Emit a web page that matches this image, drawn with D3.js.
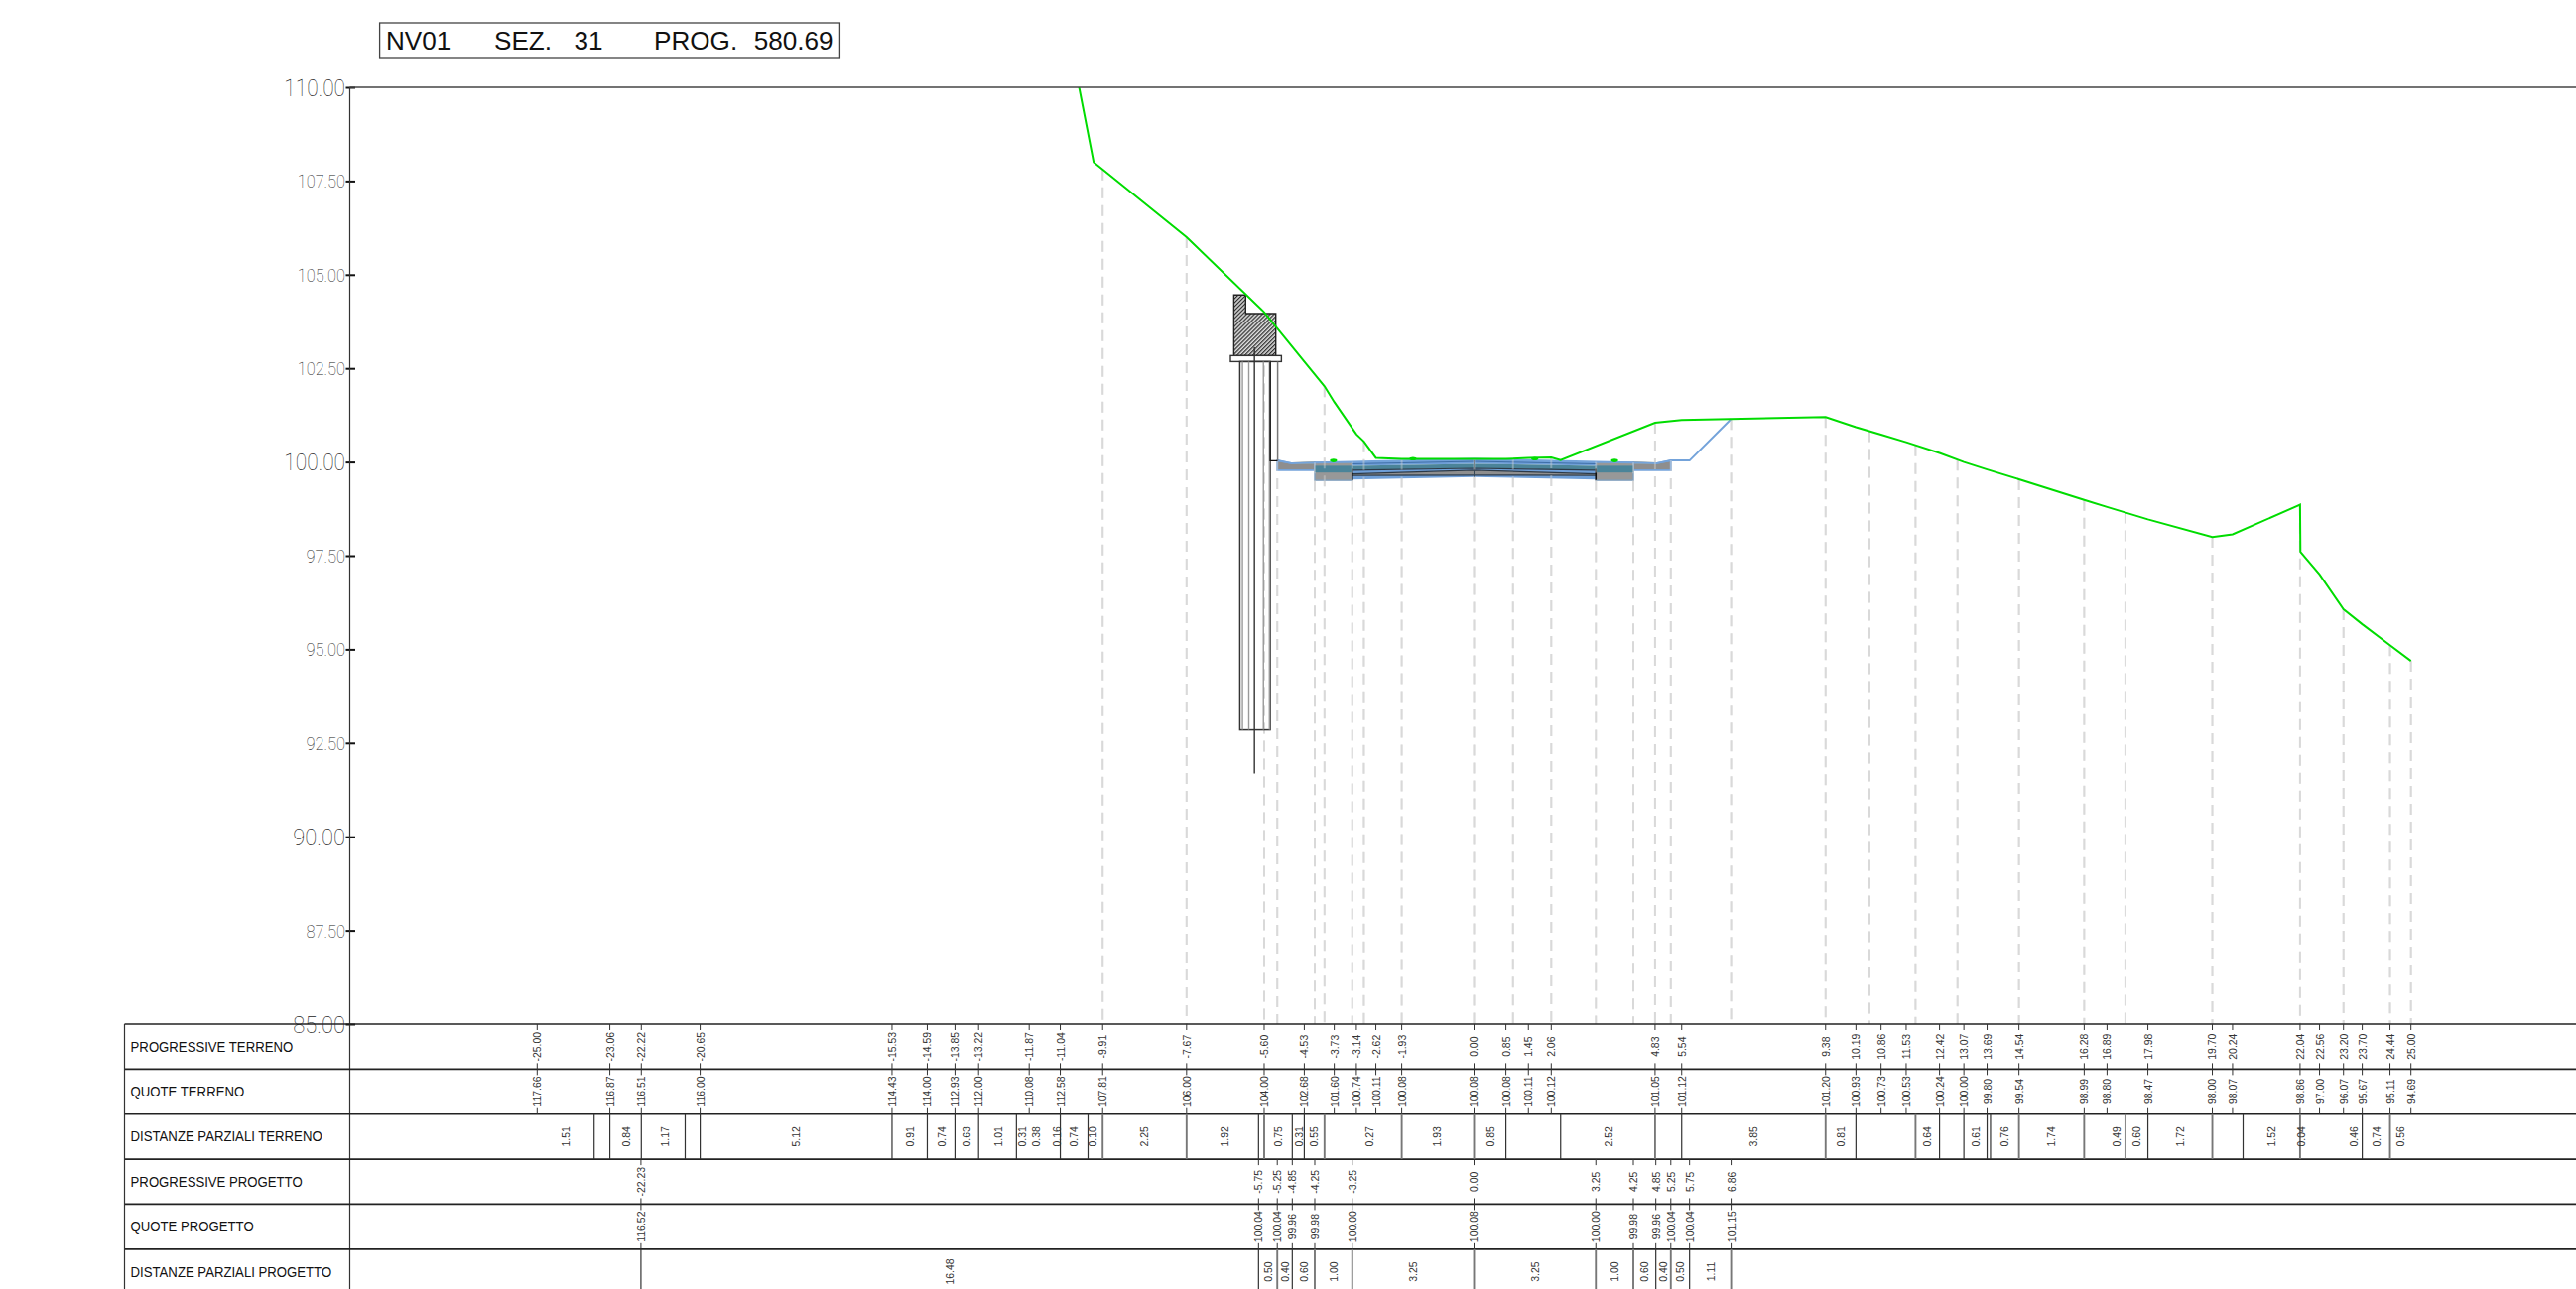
<!DOCTYPE html>
<html><head><meta charset="utf-8">
<script src="https://cdn.jsdelivr.net/npm/d3@7"></script>
<style>html,body{margin:0;padding:0;background:#fff;overflow:hidden}svg{display:block}</style>
</head><body><svg id="c" width="2596" height="1299"></svg>
<script>
// ---------- data ----------
const titleParts = ["NV01","SEZ.","31","PROG.","580.69"];
const yTicks = [110,107.5,105,102.5,100,97.5,95,92.5,90,87.5,85];
const rowNames = ["PROGRESSIVE TERRENO","QUOTE TERRENO","DISTANZE PARZIALI TERRENO","PROGRESSIVE PROGETTO","QUOTE PROGETTO","DISTANZE PARZIALI PROGETTO"];

const terrainProg = [-25,-23.06,-22.22,-20.65,-15.53,-14.59,-13.85,-13.22,-11.87,-11.04,-9.91,-7.67,-5.60,-4.53,-3.73,-3.14,-2.62,-1.93,0,0.85,1.45,2.06,4.83,5.54,9.38,10.19,10.86,11.53,12.42,13.07,13.69,14.54,16.28,16.89,17.98,19.70,20.24,22.04,22.56,23.20,23.70,24.44,25];
const terrainQuote = [117.66,116.87,116.51,116.00,114.43,114.00,112.93,112.00,110.08,112.58,107.81,106.00,104.00,102.68,101.60,100.74,100.11,100.08,100.08,100.08,100.11,100.12,101.05,101.12,101.20,100.93,100.73,100.53,100.24,100.00,99.80,99.54,98.99,98.80,98.47,98.00,98.07,98.86,97.00,96.07,95.67,95.11,94.69];
// extra terrain vertices seen on the green profile, not labelled in the table
const kinkProg = [-10.15,-3.99,-2.94,2.31,22.05];
const kinkQuote = [108.00,102.02,100.55,100.05,97.60];
// stations with a dashed drop line, up to the terrain and up to the project line
const dashTerrain = [-9.91,-7.67,-5.60,-3.99,-2.94,-1.93,0,1.04,2.06,4.83,9.38,10.55,11.78,12.90,14.54,16.28,17.38,19.70,22.04,23.20,24.44,25];
const dashProject = [-5.25,-4.25,-3.25,3.25,4.25,5.25,6.86];

const terrainBreaks = [-23.48,-23.06,-22.22,-21.05,-20.65,-15.53,-14.59,-13.85,-13.22,-12.21,-11.04,-10.30,-9.91,-7.67,-5.75,-5.60,-4.85,-4.53,-3.99,-1.93,0,0.85,2.31,4.83,5.54,9.38,10.19,11.78,12.42,13.07,13.69,13.78,14.54,16.28,17.38,17.98,19.70,20.52,22.04,23.70,24.44];
const terrainDist = ["1.51","0.84","1.17","5.12","0.91","0.74","0.63","1.01","0.31","0.38","0.16","0.74","0.10","2.25","1.92","0.75","0.31","0.55","0.27","1.93","0.85","2.52","3.85","0.81","0.64","0.61","0.76","1.74","0.49","0.60","1.72","1.52","0.04","0.46","0.74","0.56"];
const terrainDistAt = [-24.24,-22.63,-21.59,-18.09,-15.06,-14.20,-13.53,-12.70,-12.05,-11.68,-11.13,-10.67,-10.19,-8.79,-6.67,-5.23,-4.67,-4.27,-2.80,-0.98,0.43,3.58,7.45,9.78,12.09,13.38,14.15,15.40,17.14,17.67,18.85,21.27,22.06,23.47,24.07,24.72];

const projectProg = [-22.23,-5.75,-5.25,-4.85,-4.25,-3.25,0,3.25,4.25,4.85,5.25,5.75,6.86];
const projectQuote = [116.52,100.04,100.04,99.96,99.98,100.00,100.08,100.00,99.98,99.96,100.04,100.04,101.15];
const projectDist = ["16.48","0.50","0.40","0.60","1.00","3.25","3.25","1.00","0.60","0.40","0.50","1.11"];

// pavement layers: interface elevations at the edge and at the crown
const layerEdge = [100.00,99.90,99.78,99.68,99.64,99.53];
const layerCrown = [100.08,99.95,99.83,99.78,99.65,99.60];
const roadEdgeProg = 3.25, shoulderProg = 4.25, wedgeProg = 5.25;
const blockTop = 99.99, blockBottom = 99.51, bandTop = 99.90, bandBottom = 99.72, wedgeBottom = 99.78;
const dotProg = [-3.75,-1.63,1.62,3.75];
const dotQuote = [100.04,100.09,100.09,100.04];

// abutment (units: m)
const capProg = [-6.41,-6.095,-6.095,-5.29,-5.29,-6.41];
const capQuote = [104.46,104.46,103.96,103.96,102.84,102.84];
const plateProg = [-6.50,-5.14], plateQuote = [102.68,102.84];
const pileProg = [-6.25,-5.44], pileQuote = [92.85,102.68];
const pileInner = [-6.18,-6.01,-5.62,-5.46];
const axisProg = -5.86, axisQuote = [91.69,103.06];
const wallProg = -5.24, wallQuote = 100.03;

// ---------- scales ----------
const W = 2596;
const x = d3.scaleLinear().domain([-25,25]).range([541.3,2429.7]);
const y = d3.scaleLinear().domain([85,110]).range([1032,88]);
const rowY = d3.scaleLinear().domain([0,6]).range([1032,1304.2]);
const axisX = 352.5, tableX = 125.5;
const svg = d3.select("#c");
const sans = "'Liberation Sans',Arial,sans-serif";
const defs = svg.append("defs");
defs.append("clipPath").attr("id","plot").append("rect").attr("x",axisX).attr("y",y(110)).attr("width",W-axisX).attr("height",y(85)-y(110));
const pat = defs.append("pattern").attr("id","hatch").attr("width",2.8).attr("height",2.8).attr("patternUnits","userSpaceOnUse").attr("patternTransform","rotate(45)");
pat.append("rect").attr("width",2.8).attr("height",2.8).attr("fill","#dcdcdc");
pat.append("rect").attr("width",1.2).attr("height",2.8).attr("fill","#2a2a2a");

const line = d3.line().x(d=>x(d[0])).y(d=>y(d[1]));
const plot = svg.append("g").attr("clip-path","url(#plot)");

const terrain = d3.zip(terrainProg,terrainQuote).concat(d3.zip(kinkProg,kinkQuote)).sort((a,b)=>a[0]-b[0]);
const onProfile = (pts,p)=>{
  const i = d3.bisector(d=>d[0]).left(pts,p);
  if (pts[i][0]===p) return pts[i][1];
  return d3.scaleLinear().domain([pts[i-1][0],pts[i][0]]).range([pts[i-1][1],pts[i][1]])(p);
};
const projectLine = d3.zip(projectProg,projectQuote);
const dashed = dashTerrain.map(p=>[p,onProfile(terrain,p)]).concat(dashProject.map(p=>[p,onProfile(projectLine,p)]));
const drawDashes = op => plot.append("g").selectAll("line").data(dashed).join("line")
  .attr("x1",d=>x(d[0])).attr("x2",d=>x(d[0])).attr("y1",d=>y(d[1])).attr("y2",y(85))
  .attr("stroke","#d9d9d9").attr("stroke-width",2).attr("stroke-dasharray","11 7").attr("stroke-opacity",op);
drawDashes(1);

// ---------- road ----------
const road = plot.append("g");
const BLUE="#6f9fd8", TEAL="#4b8499", GRAY="#8e8e8e", OUT="#74a3da";
[-1,1].forEach(s=>{
  const wedgeTop = s<0 ? [[-5.25,100.04],[-4.85,99.96],[-4.25,99.98]] : [[5.25,100.04],[4.85,99.96],[4.25,99.98]];
  road.append("path").attr("d",line(wedgeTop.concat([[s*shoulderProg,wedgeBottom],[s*wedgeProg,wedgeBottom]]))+"Z")
    .attr("fill",GRAY).attr("stroke",OUT).attr("stroke-width",1.8);
  road.append("path").attr("d",line(wedgeTop.slice(1))).attr("fill","none").attr("stroke","#b9a268").attr("stroke-width",2);
  const bx=[s*shoulderProg,s*roadEdgeProg];
  road.append("rect").attr("x",d3.min(bx,x)).attr("width",Math.abs(x(bx[1])-x(bx[0]))).attr("y",y(blockTop)).attr("height",y(blockBottom)-y(blockTop))
    .attr("fill","#989898").attr("stroke","#7f9fbe").attr("stroke-width",1.4);
  road.append("rect").attr("x",d3.min(bx,x)).attr("width",Math.abs(x(bx[1])-x(bx[0]))).attr("y",y(bandTop)).attr("height",y(bandBottom)-y(bandTop)).attr("fill",TEAL);
});
const fills=[BLUE,TEAL,BLUE,GRAY,BLUE];
fills.forEach((f,i)=>{
  const pts=[[-roadEdgeProg,layerEdge[i]],[0,layerCrown[i]],[roadEdgeProg,layerEdge[i]],[roadEdgeProg,layerEdge[i+1]],[0,layerCrown[i+1]],[-roadEdgeProg,layerEdge[i+1]]];
  road.append("path").attr("d",line(pts)+"Z").attr("fill",f);
});
[0.5,2,3,4].forEach(i=>{
  const at=k=>{const l=Math.floor(k),t=k-l;return l===k?[layerEdge[k],layerCrown[k]]:[layerEdge[l]*(1-t)+layerEdge[l+1]*t,layerCrown[l]*(1-t)+layerCrown[l+1]*t];};
  const [e,c]=at(i);
  road.append("path").attr("d",line([[-roadEdgeProg,e],[0,c],[roadEdgeProg,e]])).attr("fill","none")
    .attr("stroke",i===0.5?"#3f6fa8":"#2c3a48").attr("stroke-width",i===0.5?1:1.2);
});
[-roadEdgeProg,roadEdgeProg].forEach(p=>road.append("line").attr("x1",x(p)).attr("x2",x(p)).attr("y1",y(99.82)).attr("y2",y(blockBottom)).attr("stroke","#111").attr("stroke-width",1.6));
road.append("line").attr("x1",x(0)).attr("x2",x(0)).attr("y1",y(100.08)).attr("y2",y(99.6)).attr("stroke","#3a4a58").attr("stroke-width",1);

// project line (blue), from the wedge outward
plot.append("path").datum(projectLine.slice(2)).attr("d",line).attr("fill","none").attr("stroke",OUT).attr("stroke-width",2);
drawDashes(0.4);

// ---------- abutment ----------
const ab = plot.append("g");
ab.append("path").attr("d",line(d3.zip(capProg,capQuote))+"Z").attr("fill","url(#hatch)").attr("stroke","#222").attr("stroke-width",1.4);
ab.append("rect").attr("x",x(plateProg[0])).attr("width",x(plateProg[1])-x(plateProg[0])).attr("y",y(plateQuote[1])).attr("height",y(plateQuote[0])-y(plateQuote[1])).attr("fill","#fff").attr("stroke","#333").attr("stroke-width",1.4);
ab.append("rect").attr("x",x(pileProg[0])).attr("width",x(pileProg[1])-x(pileProg[0])).attr("y",y(pileQuote[1])).attr("height",y(pileQuote[0])-y(pileQuote[1])).attr("fill","none").attr("stroke","#333").attr("stroke-width",1.5);
ab.selectAll(".pi").data(pileInner).join("line").attr("x1",x).attr("x2",x).attr("y1",y(pileQuote[1])).attr("y2",y(pileQuote[0])).attr("stroke","#9a9a9a").attr("stroke-width",1.4);
ab.append("line").attr("x1",x(axisProg)).attr("x2",x(axisProg)).attr("y1",y(axisQuote[1])).attr("y2",y(axisQuote[0])).attr("stroke","#333").attr("stroke-width",1.4);
ab.append("path").attr("d",line([[pileProg[1],pileQuote[1]],[pileProg[1],wallQuote],[wallProg,wallQuote]])).attr("fill","none").attr("stroke","#111").attr("stroke-width",1.3);
ab.append("line").attr("x1",x(wallProg)).attr("x2",x(wallProg)).attr("y1",y(plateQuote[0])).attr("y2",y(wallQuote)).attr("stroke","#777").attr("stroke-width",1.5);

// ---------- terrain (green) ----------
const GREEN="#00dc00";
plot.append("path").datum(terrain).attr("d",line).attr("fill","none").attr("stroke",GREEN).attr("stroke-width",2);
plot.append("g").selectAll("ellipse").data(d3.zip(dotProg,dotQuote)).join("ellipse")
  .attr("cx",d=>x(d[0])).attr("cy",d=>y(d[1])).attr("rx",3.6).attr("ry",1.8).attr("fill",GREEN);

// ---------- axes ----------
const ax = d3.axisLeft(y).tickValues(yTicks).tickFormat(d3.format(".2f")).tickSize(4);
const axG = svg.append("g").attr("transform",`translate(${axisX},0)`).call(ax);
axG.select(".domain").remove();
axG.selectAll(".tick line").attr("x1",-4).attr("x2",5.5).attr("stroke","#111").attr("stroke-width",2);
const tickSize = d => (d===110||d===100)?23:(d===90||d===85)?24:18;
axG.selectAll(".tick text").attr("x",-4.5).attr("dy","0.36em")
  .attr("font-family","Roboto,'Liberation Sans',sans-serif").attr("font-weight",100)
  .attr("fill","#222")
  .attr("font-size",tickSize)
  .attr("lengthAdjust","spacingAndGlyphs")
  .attr("textLength",d=>tickSize(d)*(d>=100?2.68:2.2));
svg.append("line").attr("x1",axisX).attr("x2",axisX).attr("y1",y(110)).attr("y2",1299).attr("stroke","#333").attr("stroke-width",1.2);
svg.append("line").attr("x1",axisX).attr("x2",W).attr("y1",y(110)).attr("y2",y(110)).attr("stroke","#444").attr("stroke-width",1.4);

// ---------- title ----------
svg.append("rect").attr("x",382.6).attr("y",23).attr("width",463.8).attr("height",35).attr("fill","#fff").attr("stroke","#444").attr("stroke-width",1.3);
const titleX=[389,498,578.6,659,759.7];
svg.append("g").selectAll("text").data(titleParts).join("text").text(d=>d).attr("x",(d,i)=>titleX[i]).attr("y",50)
  .attr("font-family",sans).attr("font-size",25.6).attr("fill","#111")
  .attr("lengthAdjust","spacingAndGlyphs").each(function(){const n=this.getComputedTextLength();this.setAttribute("textLength",n*1.02);});

// ---------- table ----------
const t = svg.append("g");
d3.range(0,6).forEach(i=>t.append("line").attr("x1",tableX).attr("x2",W).attr("y1",rowY(i)).attr("y2",rowY(i)).attr("stroke","#222").attr("stroke-width",1.7));
t.append("line").attr("x1",tableX).attr("x2",tableX).attr("y1",rowY(0)).attr("y2",1299).attr("stroke","#333").attr("stroke-width",1.2);
t.selectAll(".rn").data(rowNames).join("text").text(d=>d).attr("x",131.6).attr("y",(d,i)=>rowY(i+0.5)).attr("dy","0.36em")
  .attr("font-family",sans).attr("font-size",14).attr("fill","#111")
  .attr("lengthAdjust","spacingAndGlyphs").each(function(){const n=this.getComputedTextLength();this.setAttribute("textLength",n*0.94);});

function vText(g,labels,xs,row){
  g.selectAll(null).data(labels).join("text").text(d=>d)
   .attr("transform",(d,i)=>`translate(${xs(i)},${rowY(row+0.5)}) rotate(-90)`)
   .attr("text-anchor","middle").attr("dy","0.36em")
   .attr("font-family",sans).attr("font-size",11).attr("fill","#333")
   .attr("lengthAdjust","spacingAndGlyphs").each(function(){const n=this.getComputedTextLength();this.setAttribute("textLength",n*0.95);});
}
function ticks(g,ps,row){
  ps.forEach(p=>{
    g.append("line").attr("x1",x(p)).attr("x2",x(p)).attr("y1",rowY(row)).attr("y2",rowY(row)+6).attr("stroke","#333");
    g.append("line").attr("x1",x(p)).attr("x2",x(p)).attr("y1",rowY(row+1)-6).attr("y2",rowY(row+1)).attr("stroke","#333");
  });
}
const dropSet = new Set(dashTerrain.concat(dashProject));
function fullLines(g,ps,row,end){
  g.selectAll(null).data(ps).join("line").attr("x1",x).attr("x2",x).attr("y1",rowY(row)).attr("y2",end===undefined?rowY(row+1):end)
    .attr("stroke",d=>dropSet.has(d)?"#777":"#333").attr("stroke-width",d=>dropSet.has(d)?1.9:1.2);
}
ticks(t,terrainProg,0); vText(t,terrainProg.map(d=>d.toFixed(2)),i=>x(terrainProg[i]),0);
ticks(t,terrainProg,1); vText(t,terrainQuote.map(d=>d.toFixed(2)),i=>x(terrainProg[i]),1);
fullLines(t,terrainBreaks,2); vText(t,terrainDist,i=>x(terrainDistAt[i]),2);
ticks(t,projectProg,3); vText(t,projectProg.map(d=>d.toFixed(2)),i=>x(projectProg[i]),3);
ticks(t,projectProg,4); vText(t,projectQuote.map(d=>d.toFixed(2)),i=>x(projectProg[i]),4);
fullLines(t,projectProg,5,1299); vText(t,projectDist,i=>(x(projectProg[i])+x(projectProg[i+1]))/2,5);
</script></body></html>
